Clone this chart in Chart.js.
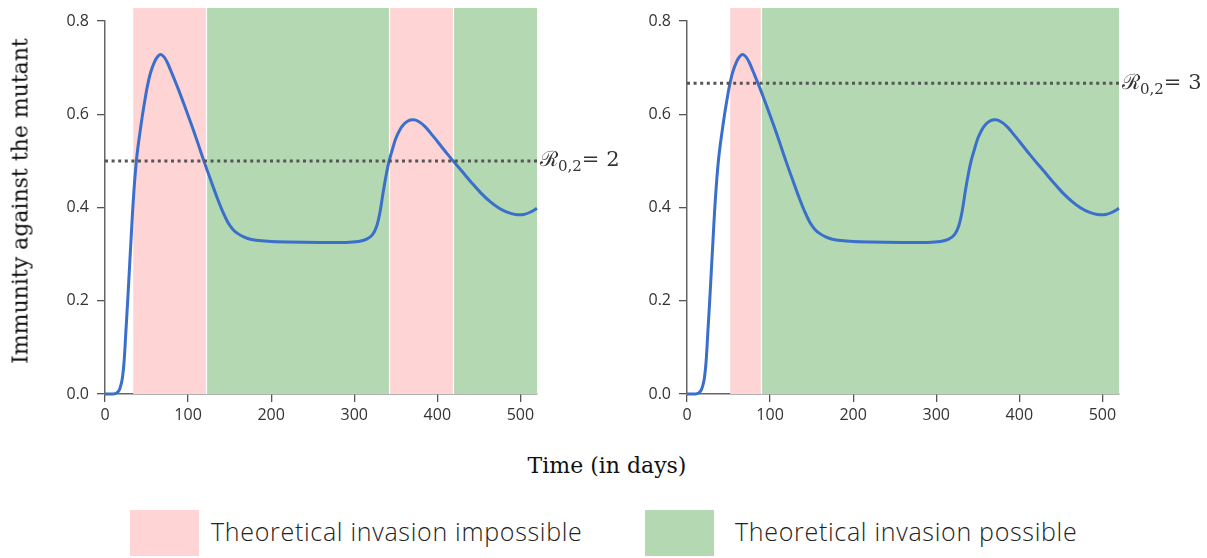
<!DOCTYPE html>
<html>
<head>
<meta charset="utf-8">
<script src="https://cdn.jsdelivr.net/npm/chart.js@4.4.1/dist/chart.umd.min.js"></script>
<style>
  html, body { margin: 0; padding: 0; background: #fff; }
  body { width: 1207px; height: 558px; position: relative; overflow: hidden; }
  .cv { position: absolute; top: 0; }
  .ytitle { position: absolute; left: 20px; top: 201px; transform: translate(-50%, -50%) rotate(-90deg);
            font-family: "DejaVu Serif", serif; font-size: 22px; color: #111; white-space: nowrap; }
  .xtitle { position: absolute; left: 607px; top: 465px; transform: translate(-50%, -50%);
            font-family: "DejaVu Serif", serif; font-size: 22px; color: #111; white-space: nowrap; }
  .rlab { position: absolute; font-family: "DejaVu Serif", serif; font-size: 21px; color: #333; white-space: nowrap; }
  .rlab sub { font-size: 15px; vertical-align: -5px; }
  .leg { position: absolute; top: 510px; height: 46px; }
  .legtxt { position: absolute; top: 531px; transform: translateY(-50%); font-family: "Open Sans", sans-serif;
            font-weight: 300; font-size: 25px; letter-spacing: 0.7px; color: #222; white-space: nowrap; }
</style>
</head>
<body>
<canvas id="c1" class="cv" style="left:0px" width="600" height="440"></canvas>
<canvas id="c2" class="cv" style="left:582px" width="600" height="440"></canvas>
<div class="ytitle">Immunity against the mutant</div>
<div class="xtitle">Time (in days)</div>
<div class="rlab" id="lab1" style="left:540px; top:144px;">ℛ<sub>0,2</sub>= 2</div>
<div class="rlab" id="lab2" style="left:1122px; top:67px;">ℛ<sub>0,2</sub>= 3</div>
<div class="leg" style="left:130px; width:69px; background:#ffd4d5;"></div>
<div class="legtxt" style="left:211px;">Theoretical invasion impossible</div>
<div class="leg" style="left:645px; width:69px; background:#b3d8b2;"></div>
<div class="legtxt" style="left:735px;">Theoretical invasion possible</div>
<script>
// ---- data ----
const days = [0,10,14,17,19,21,23,25,27,29,31,33,35,37,39,42,45,48,51,55,60,64,67,71,75,80,88,96,104,112,119,128,135,142,148,154,160,167,175,185,200,220,260,290,305,315,322,327,331,335,339,342,346,350,355,360,365,371,377,385,395,404,412,419,430,440,452,464,474,484,494,504,512,520];
const immunity = [0,0,0.002,0.008,0.018,0.035,0.07,0.13,0.19,0.255,0.32,0.385,0.44,0.485,0.52,0.56,0.597,0.63,0.66,0.69,0.714,0.725,0.728,0.723,0.711,0.69,0.655,0.617,0.578,0.537,0.5,0.455,0.421,0.39,0.368,0.353,0.344,0.337,0.332,0.329,0.327,0.326,0.325,0.325,0.327,0.332,0.342,0.36,0.39,0.435,0.475,0.5,0.525,0.548,0.567,0.579,0.586,0.588,0.585,0.574,0.553,0.533,0.515,0.5,0.477,0.456,0.432,0.412,0.399,0.39,0.385,0.385,0.39,0.398];
const xTicks = [0,100,200,300,400,500];
const yTicks = [0,0.2,0.4,0.6,0.8];
const thresholdLeft = 0.5;    // R0,2 = 2
const thresholdRight = 2/3;   // R0,2 = 3
const regionStartsLeft = [34,122,342,419];
const regionEndsLeft   = [122,342,419,520];
const regionTypesLeft  = ['impossible','possible','impossible','possible'];
const regionStartsRight = [52,89];
const regionEndsRight   = [89,520];
const regionTypesRight  = ['impossible','possible'];
const regionTop = 0.828;
const xMax = 520;

const COLORS = { impossible: '#ffd4d5', possible: '#b3d8b2' };

const regionPlugin = {
  id: 'regions',
  beforeDatasetsDraw(chart, args, opts) {
    const {ctx, scales: {x, y}} = chart;
    const y0 = y.getPixelForValue(0), y1 = y.getPixelForValue(opts.top);
    ctx.save();
    for (let i = 0; i < opts.starts.length; i++) {
      const x0 = x.getPixelForValue(opts.starts[i]);
      const x1 = x.getPixelForValue(opts.ends[i]);
      ctx.fillStyle = COLORS[opts.types[i]];
      ctx.fillRect(x0, y1, x1 - x0, y0 - y1);
    }
    ctx.strokeStyle = '#ffffff';
    ctx.lineWidth = 1.2;
    for (let i = 1; i < opts.starts.length; i++) {
      const xs = Math.round(x.getPixelForValue(opts.starts[i])) + 0.5;
      ctx.beginPath(); ctx.moveTo(xs, y1); ctx.lineTo(xs, y0); ctx.stroke();
    }
    ctx.restore();
  }
};

function makeChart(id, threshold, starts, ends, types) {
  const curve = days.map((d, i) => ({x: d, y: immunity[i]}));
  return new Chart(document.getElementById(id), {
    type: 'line',
    data: {
      datasets: [
        { data: curve, borderColor: '#3a6fcb', borderWidth: 3, pointRadius: 0,
          tension: 0.35, fill: false, order: 2 },
        { data: [{x: 0, y: threshold}, {x: xMax, y: threshold}], borderColor: '#555555',
          borderWidth: 3, borderDash: [3, 3.6], pointRadius: 0, fill: false, order: 1 }
      ]
    },
    options: {
      responsive: false, animation: false, devicePixelRatio: 1,
      layout: { padding: { left: 0, top: 21, right: 63, bottom: 0 } },
      plugins: {
        legend: { display: false }, tooltip: { enabled: false },
        regions: { starts, ends, types, top: regionTop }
      },
      clip: false,
      scales: {
        x: {
          type: 'linear', min: 0, max: xMax,
          afterBuildTicks: s => { s.ticks = xTicks.map(v => ({value: v})); },
          afterFit: s => { s.height = 46; },
          grid: { display: true, drawOnChartArea: false, drawTicks: true, tickLength: 8, color: '#555', lineWidth: 1.3 },
          border: { display: true, color: '#666', width: 1.5 },
          ticks: { font: { family: 'Open Sans', size: 16 }, color: '#333', padding: 4,
                   maxRotation: 0, callback: v => String(v) }
        },
        y: {
          type: 'linear', min: 0, max: 0.8,
          afterBuildTicks: s => { s.ticks = yTicks.map(v => ({value: v})); },
          afterFit: s => { s.width = 105; },
          grid: { display: true, drawOnChartArea: false, drawTicks: true, tickLength: 8, color: '#555', lineWidth: 1.3 },
          border: { display: true, color: '#666', width: 1.5 },
          ticks: { font: { family: 'Open Sans', size: 16 }, color: '#333', padding: 8,
                   callback: v => Number(v).toFixed(1) }
        }
      }
    },
    plugins: [regionPlugin]
  });
}
makeChart('c1', thresholdLeft, regionStartsLeft, regionEndsLeft, regionTypesLeft);
makeChart('c2', thresholdRight, regionStartsRight, regionEndsRight, regionTypesRight);
</script>
</body>
</html>
